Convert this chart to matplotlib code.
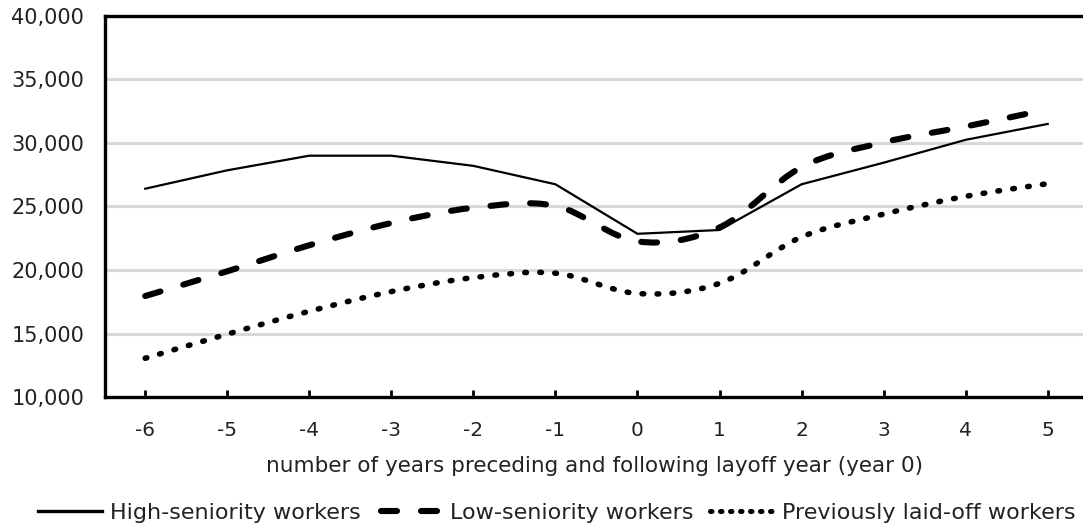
import numpy as np
import matplotlib.pyplot as plt
from matplotlib.path import Path
from matplotlib.patches import PathPatch
from matplotlib.lines import Line2D
from matplotlib.ticker import FuncFormatter

plt.rcParams['font.family'] = ['DejaVu Sans']
plt.rcParams['axes.unicode_minus'] = False

years = [-6, -5, -4, -3, -2, -1, 0, 1, 2, 3, 4, 5]
high_seniority = [26400, 27850, 29000, 29000, 28200, 26750, 22850, 23150, 26750, 28450, 30250, 31500]
low_seniority = [17950, 19900, 21950, 23700, 24900, 25050, 22250, 23350, 28100, 30050, 31300, 32650]
laid_off = [13050, 14950, 16750, 18300, 19400, 19750, 18150, 18950, 22600, 24400, 25800, 26800]

labels = ["High-seniority workers", "Low-seniority workers", "Previously laid-off workers"]


def smooth_path(xs, ys):
    # catmull-rom style bezier through the points (like excel's smoothed line)
    p = np.column_stack([xs, ys]).astype(float)
    verts = [p[0]]
    codes = [Path.MOVETO]
    n = len(p)
    for i in range(n - 1):
        p0 = p[i - 1] if i > 0 else p[i]
        p3 = p[i + 2] if i + 2 < n else p[i + 1]
        c1 = p[i] + (p[i + 1] - p0) / 6.0
        c2 = p[i + 1] - (p3 - p[i]) / 6.0
        verts += [c1, c2, p[i + 1]]
        codes += [Path.CURVE4] * 3
    return Path(verts, codes)


fig = plt.figure(figsize=(10.83, 5.27), dpi=100)
ax = fig.add_axes([105 / 1083, 1 - 397 / 527, 1 - 105 / 1083, (397 - 16) / 527])

ax.set_xlim(-6.49, 5.43)
ax.set_ylim(10000, 40000)
ax.set_yticks(range(10000, 40001, 5000))
ax.set_xticks(years)
ax.yaxis.set_major_formatter(FuncFormatter(lambda v, p: f"{int(v):,}"))
ax.grid(axis='y', color='#d9d9d9', lw=2.2)
ax.set_axisbelow(True)

for s in ['left', 'top', 'bottom']:
    ax.spines[s].set_linewidth(2.4)
ax.spines['right'].set_visible(False)
ax.tick_params(axis='y', length=0, pad=15, labelsize=15, labelcolor='#222222')
ax.tick_params(axis='x', direction='in', length=5, width=2, pad=17, labelsize=14.5, labelcolor='#222222')

ax.plot(years, high_seniority, color='black', lw=1.6, zorder=4)

dash = PathPatch(smooth_path(years, low_seniority), fill=False, edgecolor='black',
                 lw=4.4, linestyle=(0, (2.6, 3.9)), capstyle='round', zorder=3)
ax.add_patch(dash)
dots = PathPatch(smooth_path(years, laid_off), fill=False, edgecolor='black',
                 lw=4.0, linestyle=(0, (0.3, 2.4)), capstyle='round', zorder=3)
ax.add_patch(dots)

ax.set_xlabel("number of years preceding and following layoff year (year 0)",
              fontsize=15.5, labelpad=12, color='#222222')

handles = [
    Line2D([], [], color='black', lw=2.4),
    Line2D([], [], color='black', lw=4.4, linestyle=(5.9, (2.62, 3.93)), dash_capstyle='round'),
    Line2D([], [], color='black', lw=3.6, linestyle=(0, (0.3, 1.7)), dash_capstyle='round'),
]
leg = fig.legend(handles, labels, loc='center', bbox_to_anchor=(0.514, 0.027), ncol=3,
                 frameon=False, fontsize=16, handlelength=2.9, handletextpad=0.35,
                 columnspacing=0.75, borderaxespad=0)
for t in leg.get_texts():
    t.set_color('#222222')

fig.savefig("out.png", dpi=100)
